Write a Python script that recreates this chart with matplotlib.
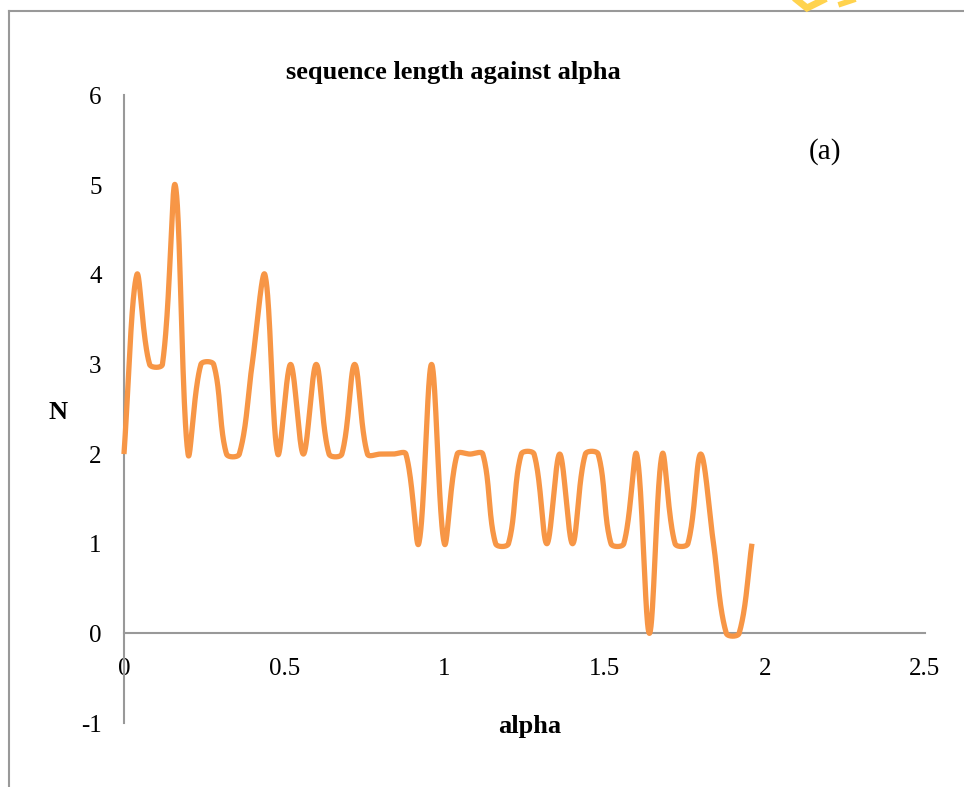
import numpy as np
import matplotlib
matplotlib.use("Agg")
import matplotlib.pyplot as plt
from matplotlib.lines import Line2D

# Measured sequence length N for each alpha
alpha = [0.00, 0.04, 0.08, 0.12, 0.16, 0.20, 0.24, 0.28, 0.32, 0.36,
         0.40, 0.44, 0.48, 0.52, 0.56, 0.60, 0.64, 0.68, 0.72, 0.76,
         0.80, 0.84, 0.88, 0.92, 0.96, 1.00, 1.04, 1.08, 1.12, 1.16,
         1.20, 1.24, 1.28, 1.32, 1.36, 1.40, 1.44, 1.48, 1.52, 1.56,
         1.60, 1.64, 1.68, 1.72, 1.76, 1.80, 1.84, 1.88, 1.92, 1.96]
N = [2, 4, 3, 3, 5, 2, 3, 3, 2, 2,
     3, 4, 2, 3, 2, 3, 2, 2, 3, 2,
     2, 2, 2, 1, 3, 1, 2, 2, 2, 1,
     1, 2, 2, 1, 2, 1, 2, 2, 1, 1,
     2, 0, 2, 1, 1, 2, 1, 0, 0, 1]

x_ticks = [0, 0.5, 1, 1.5, 2, 2.5]
x_tick_labels = ["0", "0.5", "1", "1.5", "2", "2.5"]
y_ticks = [-1, 0, 1, 2, 3, 4, 5, 6]
y_tick_labels = ["-1", "0", "1", "2", "3", "4", "5", "6"]

title = "sequence length against alpha"
x_label = "alpha"
y_label = "N"
panel_tag = "(a)"

LINE_COLOR = "#F79646"
AXIS_COLOR = "#999999"
MARK_COLOR = "#FFD34E"
FONT = ["Liberation Serif", "DejaVu Serif"]

FIG_W, FIG_H = 964, 787
X_RANGE = (0, 2.5)
Y_RANGE = (-1, 6)
AX_RECT = [0.1286, 0.0813, 0.8309, 0.7974]


def smooth_curve(xs, ys, sx, sy, samples=40):
    """Chord-length weighted Catmull-Rom smoothing through every point.

    sx, sy convert data units to display pixels so that segment lengths
    (and hence tangent weights) are measured as they appear on screen.
    """
    pts = np.column_stack([np.asarray(xs, float), np.asarray(ys, float)])
    scr = pts * np.array([sx, sy])
    n = len(pts)
    t = np.linspace(0, 1, samples)[:, None]
    out = []
    for i in range(n - 1):
        i0 = max(i - 1, 0)
        i3 = min(i + 2, n - 1)
        p0, p1, p2, p3 = pts[i0], pts[i], pts[i + 1], pts[i3]
        d01 = np.linalg.norm(scr[i] - scr[i0])
        d12 = np.linalg.norm(scr[i + 1] - scr[i])
        d23 = np.linalg.norm(scr[i3] - scr[i + 1])
        w1 = d12 / (3.0 * (d01 + d12)) if d01 + d12 > 0 else 0.0
        w2 = d12 / (3.0 * (d12 + d23)) if d12 + d23 > 0 else 0.0
        c1 = p1 + (p2 - p0) * w1
        c2 = p2 - (p3 - p1) * w2
        seg = ((1 - t) ** 3) * p1 + 3 * ((1 - t) ** 2) * t * c1 \
            + 3 * (1 - t) * (t ** 2) * c2 + (t ** 3) * p2
        out.append(seg if i == 0 else seg[1:])
    curve = np.vstack(out)
    return curve[:, 0], curve[:, 1]


plt.rcParams["font.family"] = FONT

fig = plt.figure(figsize=(FIG_W / 100, FIG_H / 100), dpi=100)
ax = fig.add_axes(AX_RECT)
ax.set_xlim(*X_RANGE)
ax.set_ylim(*Y_RANGE)

px_per_x = AX_RECT[2] * FIG_W / (X_RANGE[1] - X_RANGE[0])
px_per_y = AX_RECT[3] * FIG_H / (Y_RANGE[1] - Y_RANGE[0])
cx, cy = smooth_curve(alpha, N, px_per_x, px_per_y)
ax.plot(cx, cy, color=LINE_COLOR, linewidth=3.8, solid_capstyle="butt",
        solid_joinstyle="round", clip_on=False, zorder=3)

for side in ("top", "right"):
    ax.spines[side].set_visible(False)
for side in ("left", "bottom"):
    ax.spines[side].set_color(AXIS_COLOR)
    ax.spines[side].set_linewidth(1.5)
ax.spines["bottom"].set_position(("data", 0))

ax.set_xticks(x_ticks)
ax.set_xticklabels(x_tick_labels)
ax.set_yticks(y_ticks)
ax.set_yticklabels(y_tick_labels)
ax.tick_params(axis="both", length=0, labelsize=18, colors="black")
ax.tick_params(axis="x", pad=18)
ax.tick_params(axis="y", pad=16)
ax.patch.set_visible(False)

fig.text(453 / FIG_W, 1 - 73 / FIG_H, title, ha="center", va="center",
         fontsize=19, fontweight="bold")
fig.text(530 / FIG_W, 1 - 727 / FIG_H, x_label, ha="center", va="center",
         fontsize=19, fontweight="bold")
fig.text(58 / FIG_W, 1 - 412 / FIG_H, y_label, ha="center", va="center",
         fontsize=19, fontweight="bold")
fig.text(825 / FIG_W, 1 - 152 / FIG_H, panel_tag, ha="center", va="center",
         fontsize=21)

# outer chart frame (top and left edges)
fig.add_artist(Line2D([9 / FIG_W, 1.0], [1 - 11 / FIG_H, 1 - 11 / FIG_H],
                      transform=fig.transFigure, color=AXIS_COLOR, linewidth=1.5))
fig.add_artist(Line2D([9 / FIG_W, 9 / FIG_W], [0.0, 1 - 11 / FIG_H],
                      transform=fig.transFigure, color=AXIS_COLOR, linewidth=1.5))

# yellow page mark peeking in above the frame
fig.add_artist(Line2D([797 / FIG_W, 807 / FIG_W, 823 / FIG_W],
                      [1.0, 1 - 8 / FIG_H, 1.0],
                      transform=fig.transFigure, color=MARK_COLOR, linewidth=5,
                      solid_joinstyle="miter"))
fig.add_artist(Line2D([841 / FIG_W, 853 / FIG_W], [1 - 4 / FIG_H, 1.0],
                      transform=fig.transFigure, color=MARK_COLOR, linewidth=4))

fig.savefig("out.png", dpi=100, facecolor="white")
